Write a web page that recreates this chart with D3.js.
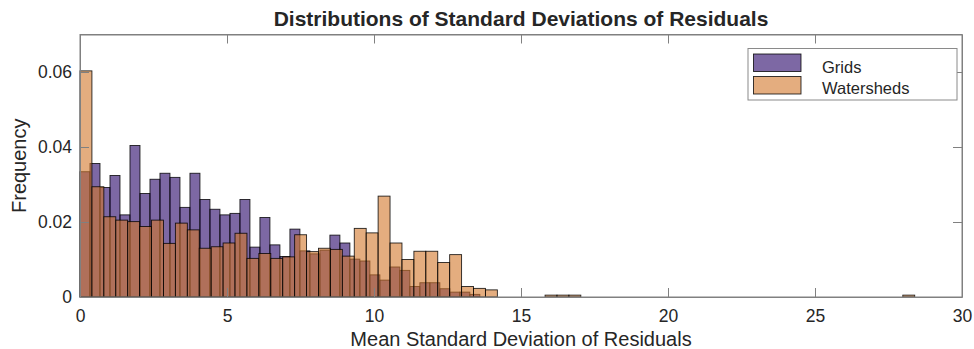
<!DOCTYPE html>
<html>
<head>
<meta charset="utf-8">
<script src="https://cdn.jsdelivr.net/npm/d3@7"></script>
<style>
  body { margin: 0; background: #fff; }
  svg { display: block; }
  text { font-family: "Liberation Sans", Arial, Helvetica, sans-serif; fill: #262626; }
</style>
</head>
<body>
<svg id="chart" width="974" height="349"></svg>
<script>
// Histogram data: relative frequency per bin, bins start at 0
const seriesNames = ["Grids", "Watersheds"];

const gridsBinWidth = 0.34;
const gridsFreq = [
  0.0334, 0.0356, 0.0292, 0.0324, 0.0219, 0.0404, 0.0276, 0.0314, 0.0330, 0.0319,
  0.0239, 0.0330, 0.0260, 0.0234, 0.0219, 0.0223, 0.0260, 0.0133, 0.0212, 0.0139,
  0.0108, 0.0181, 0.0123, 0.0115, 0.0125, 0.0165, 0.0144, 0.0101, 0.0096, 0.0059,
  0.0045, 0.0080, 0.0071, 0.0028, 0.0038, 0.0038, 0.0022, 0.0013, 0.0013, 0.0007
];

const watershedsBinWidth = 0.4056;
const watershedsFreq = [
  0.0603, 0.0294, 0.0214, 0.0205, 0.0201, 0.0188, 0.0205, 0.0143, 0.0197, 0.0179,
  0.0130, 0.0134, 0.0144, 0.0170, 0.0103, 0.0116, 0.0103, 0.0107, 0.0166, 0.0121,
  0.0130, 0.0127, 0.0109, 0.0183, 0.0171, 0.0269, 0.0144, 0.0100, 0.0122, 0.0122,
  0.0092, 0.0113, 0.0028, 0.0023, 0.0019, 0, 0, 0, 0, 0.0005,
  0.0005, 0.0005, 0, 0, 0, 0, 0, 0, 0, 0,
  0, 0, 0, 0, 0, 0, 0, 0, 0, 0,
  0, 0, 0, 0, 0, 0, 0, 0, 0, 0.0005
];

const xTicks = [0, 5, 10, 15, 20, 25, 30];
const yTicks = [0, 0.02, 0.04, 0.06];
const yTickLabels = ["0", "0.02", "0.04", "0.06"];

const titleText = "Distributions of Standard Deviations of Residuals";
const xLabelText = "Mean Standard Deviation of Residuals";
const yLabelText = "Frequency";

const seriesColors = ["rgb(38,4,104)", "rgb(210,118,42)"];
const faceAlpha = 0.6;

// Layout
const W = 974, H = 349;
const margin = { left: 80, right: 12, top: 34.5, bottom: 52 };
const x = d3.scaleLinear().domain([0, 30]).range([margin.left, W - margin.right]);
const y = d3.scaleLinear().domain([0, 0.07]).range([H - margin.bottom, margin.top]);

const svg = d3.select("#chart");

// Bars: each series as a set of bin rectangles
function binsOf(freq, width) {
  return freq.map((f, i) => ({ x0: i * width, x1: (i + 1) * width, f }))
             .filter(d => d.f > 0);
}
const series = [
  binsOf(gridsFreq, gridsBinWidth),
  binsOf(watershedsFreq, watershedsBinWidth)
];

series.forEach((bins, si) => {
  svg.append("g")
    .selectAll("rect")
    .data(bins)
    .join("rect")
    .attr("x", d => x(d.x0))
    .attr("width", d => x(d.x1) - x(d.x0))
    .attr("y", d => y(d.f))
    .attr("height", d => y(0) - y(d.f))
    .attr("fill", seriesColors[si])
    .attr("fill-opacity", faceAlpha)
    .attr("stroke", "#000")
    .attr("stroke-opacity", 0.85)
    .attr("stroke-width", 0.9);
});

// Axes with inward ticks on all four sides
const axisColor = "#808080";
const tickLen = 9;

const gx = svg.append("g")
  .attr("transform", `translate(0,${y(0)})`)
  .call(d3.axisBottom(x).tickValues(xTicks).tickFormat(d3.format("d"))
    .tickSizeInner(-tickLen).tickSizeOuter(0).tickPadding(13));
const gxTop = svg.append("g")
  .attr("transform", `translate(0,${y(0.07)})`)
  .call(d3.axisTop(x).tickValues(xTicks).tickFormat("")
    .tickSizeInner(-tickLen).tickSizeOuter(0));
const gy = svg.append("g")
  .attr("transform", `translate(${x(0)},0)`)
  .call(d3.axisLeft(y).tickValues(yTicks).tickFormat((d, i) => yTickLabels[i])
    .tickSizeInner(-tickLen).tickSizeOuter(0).tickPadding(8));
const gyRight = svg.append("g")
  .attr("transform", `translate(${x(30)},0)`)
  .call(d3.axisRight(y).tickValues(yTicks).tickFormat("")
    .tickSizeInner(-tickLen).tickSizeOuter(0));

[gx, gxTop, gy, gyRight].forEach(g => {
  g.select(".domain").attr("stroke", axisColor);
  g.selectAll(".tick line").attr("stroke", axisColor);
  g.selectAll(".tick text")
    .attr("font-family", "Liberation Sans, Arial, sans-serif")
    .attr("font-size", 17.5)
    .attr("fill", "#262626");
});

// Axes box
svg.append("rect")
  .attr("x", x(0)).attr("y", y(0.07))
  .attr("width", x(30) - x(0)).attr("height", y(0) - y(0.07))
  .attr("fill", "none").attr("stroke", axisColor).attr("stroke-width", 1);

// Title and axis labels
svg.append("text")
  .attr("x", (x(0) + x(30)) / 2).attr("y", 26)
  .attr("text-anchor", "middle")
  .attr("font-weight", "bold").attr("font-size", 21)
  .attr("fill", "#000")
  .text(titleText);

svg.append("text")
  .attr("x", (x(0) + x(30)) / 2).attr("y", 346)
  .attr("text-anchor", "middle")
  .attr("font-size", 20)
  .text(xLabelText);

svg.append("text")
  .attr("transform", `translate(26,${(y(0) + y(0.07)) / 2}) rotate(-90)`)
  .attr("text-anchor", "middle")
  .attr("font-size", 20)
  .text(yLabelText);

// Legend
const legend = svg.append("g").attr("transform", "translate(748,48.5)");
legend.append("rect")
  .attr("width", 209).attr("height", 51.5)
  .attr("fill", "#fff").attr("stroke", "#8a8a8a").attr("stroke-width", 1);
seriesNames.forEach((name, i) => {
  const yy = 5.5 + i * 22.5;
  legend.append("rect")
    .attr("x", 5.5).attr("y", yy)
    .attr("width", 47.5).attr("height", 17.5)
    .attr("fill", seriesColors[i]).attr("fill-opacity", faceAlpha)
    .attr("stroke", "#000").attr("stroke-opacity", 0.85).attr("stroke-width", 0.9);
  legend.append("text")
    .attr("x", 74).attr("y", yy + 18.5 - i * 1.5)
    .attr("font-size", 16.5)
    .text(name);
});
</script>
</body>
</html>
